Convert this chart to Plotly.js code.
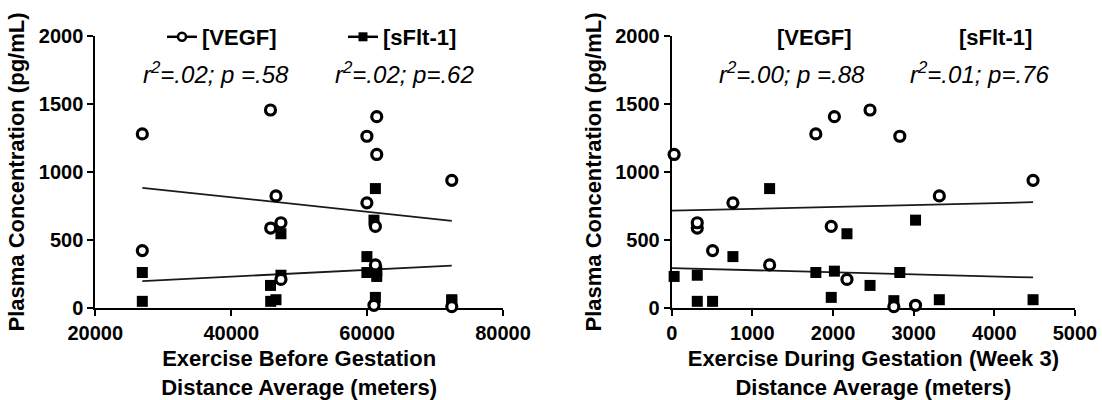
<!DOCTYPE html>
<html>
<head>
<meta charset="utf-8">
<script src="https://cdn.plot.ly/plotly-3.0.1.min.js"></script>
<style>html,body{margin:0;padding:0;background:#fff;}#chart{width:1102px;height:400px;}</style>
</head>
<body>
<div id="chart"></div>
<script>
// ---- data (one entry per subject) ----
const vegf  = [1280, 422, 1456, 1407, 1263, 1129, 939, 824, 773, 588, 627, 600, 317, 210, 20, 10];
const sflt1 = [261, 49, 166, 271, 261, 232, 61, 61, 378, 49, 241, 78, 878, 546, 646, 54];
const distBefore = [26920, 26920, 45780, 61420, 59970, 61420, 72460, 46590, 59970, 45810, 47320, 61220, 61220, 47320, 61010, 72460];
const distDuring = [1787, 507, 2459, 2017, 2828, 30, 4480, 3318, 759, 317, 317, 1978, 1214, 2173, 3023, 2754];
const seriesNames = ['[VEGF]', '[sFlt-1]'];
const statsBefore = ['<i>r<sup>2</sup>=.02; p =.58</i>', '<i>r<sup>2</sup>=.02; p=.62</i>'];
const statsDuring = ['<i>r<sup>2</sup>=.00; p =.88</i>', '<i>r<sup>2</sup>=.01; p=.76</i>'];
const xTitleBefore = '<b>Exercise Before Gestation<br>Distance Average (meters)</b>';
const xTitleDuring = '<b>Exercise During Gestation (Week 3)<br>Distance Average (meters)</b>';
const yTitle = '<b>Plasma Concentration (pg/mL)</b>';

function fit(xs, ys, x0, x1) {
  const n = xs.length;
  const mx = xs.reduce((a, b) => a + b, 0) / n;
  const my = ys.reduce((a, b) => a + b, 0) / n;
  let sxy = 0, sxx = 0;
  for (let i = 0; i < n; i++) { sxy += (xs[i] - mx) * (ys[i] - my); sxx += (xs[i] - mx) * (xs[i] - mx); }
  const b = sxy / sxx, a = my - b * mx;
  return {x: [x0, x1], y: [a + b * x0, a + b * x1]};
}

const FONT = 'Liberation Sans, Arial, sans-serif';
const circ = {symbol: 'circle', size: 10, color: 'white', line: {color: 'black', width: 3.2}};
const sq = {symbol: 'square', size: 11, color: 'black', line: {width: 0}};
const fitLine = {color: '#1a1a1a', width: 1.8};

function panel(xs, xa, ya, xmin, xmax) {
  const f1 = fit(xs, vegf, xmin, xmax);
  const f2 = fit(xs, sflt1, xmin, xmax);
  return [
    {x: f1.x, y: f1.y, xaxis: xa, yaxis: ya, mode: 'lines', line: fitLine, showlegend: false, hoverinfo: 'skip'},
    {x: f2.x, y: f2.y, xaxis: xa, yaxis: ya, mode: 'lines', line: fitLine, showlegend: false, hoverinfo: 'skip'},
    {x: xs, y: sflt1, xaxis: xa, yaxis: ya, mode: 'markers', marker: sq, showlegend: false, cliponaxis: false},
    {x: xs, y: vegf, xaxis: xa, yaxis: ya, mode: 'markers', marker: circ, showlegend: false, cliponaxis: false}
  ];
}

const traces = []
  .concat(panel(distBefore, 'x', 'y', Math.min(...distBefore), Math.max(...distBefore)))
  .concat(panel(distDuring, 'x2', 'y2', 0, Math.max(...distDuring)));

// legend entries (line + marker symbol)
traces.push({x: [null], y: [null], xaxis: 'x', yaxis: 'y', name: seriesNames[0], mode: 'lines+markers',
  line: {color: 'black', width: 2.5}, marker: {symbol: 'circle', size: 8, color: 'white', line: {color: 'black', width: 2.5}}});
traces.push({x: [null], y: [null], xaxis: 'x', yaxis: 'y', name: seriesNames[1], mode: 'lines+markers',
  line: {color: 'black', width: 2.5}, marker: {symbol: 'square', size: 9, color: 'black'}});

const W = 1102, H = 400;
const yDom = [1 - 308 / H, 1 - 36 / H];
function xAxis(dom, range, dtick, title, anchor) {
  return {domain: dom, range: range, dtick: dtick, tick0: range[0], anchor: anchor,
    showline: true, linewidth: 2, linecolor: 'black', ticks: 'outside', ticklen: 6, tickwidth: 2, tickcolor: 'black',
    showgrid: false, zeroline: false, tickformat: 'd', layer: 'below traces',
    tickfont: {size: 20, family: FONT, color: 'black', weight: 'bold'},
    title: {text: title, font: {size: 22, family: FONT, color: 'black'}, standoff: 10}};
}
function yAxis(anchor) {
  return {domain: yDom, range: [0, 2000], dtick: 500, tick0: 0, anchor: anchor, tickformat: 'd',
    showline: true, linewidth: 2, linecolor: 'black', ticks: 'outside', ticklen: 6, tickwidth: 2, tickcolor: 'black',
    showgrid: false, zeroline: false, layer: 'below traces',
    tickfont: {size: 20, family: FONT, color: 'black', weight: 'bold'},
    title: {text: yTitle, font: {size: 22, family: FONT, color: 'black'}, standoff: 8}};
}

const annFont = {size: 24, family: FONT, color: 'black'};
const boldFont = {size: 22, family: FONT, color: 'black', weight: 'bold'};
const ann = (px, py, text, font) => ({xref: 'paper', yref: 'paper', x: px / W, y: 1 - py / H,
  xanchor: 'center', yanchor: 'middle', showarrow: false, text: text, font: font});

const layout = {
  width: W, height: H, margin: {l: 0, r: 0, t: 0, b: 0},
  paper_bgcolor: 'white', plot_bgcolor: 'white',
  font: {family: FONT, color: 'black'},
  xaxis: xAxis([95.3 / W, 503 / W], [20000, 80000], 20000, xTitleBefore, 'y'),
  yaxis: yAxis('x'),
  xaxis2: xAxis([671.7 / W, 1075 / W], [0, 5000], 1000, xTitleDuring, 'y2'),
  yaxis2: yAxis('x2'),
  showlegend: true,
  legend: {orientation: 'h', x: 162 / W, xanchor: 'left', y: 1 - 37 / H, yanchor: 'middle',
    font: boldFont, entrywidth: 136, entrywidthmode: 'pixels', bgcolor: 'rgba(0,0,0,0)', borderwidth: 0,
    itemclick: false, itemdoubleclick: false},
  annotations: [
    ann(216, 73, statsBefore[0], annFont),
    ann(404, 73, statsBefore[1], annFont),
    ann(814, 37, '<b>' + seriesNames[0] + '</b>', boldFont),
    ann(995, 37, '<b>' + seriesNames[1] + '</b>', boldFont),
    ann(792, 73, statsDuring[0], annFont),
    ann(979, 73, statsDuring[1], annFont)
  ]
};

Plotly.newPlot('chart', traces, layout, {displayModeBar: false, staticPlot: true});
</script>
</body>
</html>
